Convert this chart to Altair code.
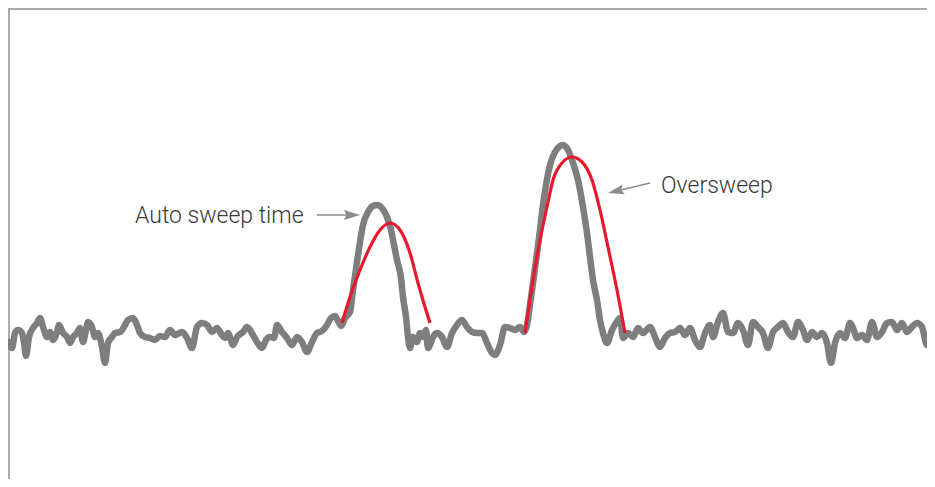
import altair as alt
import pandas as pd

# Noisy spectrum trace (frequency position, screen level)
trace_x = [8, 12, 15, 18, 22, 24, 26, 29, 33, 37, 40, 43, 47, 50, 53, 57, 59, 63, 67, 70,
           73, 77, 80, 83, 86, 88, 92, 95, 98, 102, 105, 108, 112, 115, 120, 124, 128, 133, 137, 140,
           145, 150, 155, 160, 165, 170, 175, 182, 187, 192, 197, 202, 207, 212, 217, 222, 225, 228, 233, 237,
           243, 247, 253, 257, 262, 266, 270, 274, 277, 282, 287, 292, 297, 302, 307, 312, 317, 322, 327, 331,
           335, 338, 341, 345, 350, 353, 357, 360, 363, 368, 373, 377, 382, 387, 391, 394, 397, 401, 403, 406,
           408, 410, 413, 417, 420, 423, 426, 428, 433, 437, 442, 447, 452, 457, 462, 467, 472, 477, 482, 487,
           492, 495, 500, 505, 510, 515, 520, 524, 527, 530, 533, 537, 540, 543, 546, 550, 555, 560, 563, 568,
           573, 578, 583, 587, 590, 593, 597, 600, 603, 607, 612, 616, 620, 623, 628, 633, 638, 643, 650, 655,
           660, 665, 670, 675, 680, 685, 690, 695, 700, 705, 710, 713, 718, 723, 728, 733, 738, 743, 748, 753,
           758, 763, 768, 773, 778, 783, 788, 793, 798, 803, 807, 812, 817, 822, 827, 831, 835, 840, 845, 850,
           853, 857, 862, 867, 872, 877, 882, 887, 892, 897, 902, 907, 912, 917, 922, 927, 932, 935]
trace_y = [342, 348, 333, 330, 333, 343, 356, 337, 328, 323, 318, 327, 337, 332, 340, 332, 325, 333, 337, 343,
           337, 333, 328, 342, 330, 322, 327, 337, 333, 347, 363, 343, 337, 333, 332, 327, 320, 318, 325, 333,
           337, 338, 340, 336, 337, 330, 335, 332, 338, 348, 327, 323, 325, 332, 328, 335, 338, 333, 345, 337,
           332, 327, 335, 342, 348, 340, 337, 338, 325, 332, 338, 345, 337, 342, 352, 342, 333, 331, 325, 318,
           316, 321, 326, 318, 312, 290, 262, 242, 225, 212, 206, 205, 208, 217, 230, 245, 260, 278, 297, 317,
           337, 348, 337, 342, 333, 337, 330, 348, 337, 333, 337, 347, 333, 325, 320, 327, 332, 333, 333, 343,
           353, 355, 345, 327, 328, 330, 327, 332, 325, 305, 283, 253, 230, 205, 185, 165, 152, 146, 145, 150,
           163, 180, 207, 233, 257, 280, 300, 320, 333, 343, 330, 323, 318, 338, 333, 337, 328, 333, 327, 337,
           347, 338, 333, 332, 328, 335, 328, 340, 347, 333, 325, 337, 322, 313, 332, 333, 323, 330, 345, 322,
           327, 333, 348, 332, 327, 323, 332, 337, 322, 330, 340, 332, 337, 333, 343, 363, 343, 333, 338, 323,
           328, 338, 335, 340, 322, 337, 332, 323, 322, 330, 323, 332, 327, 323, 327, 345, 328, 330]

# Red sweep curves
red1_x = [342, 350, 360, 370, 380, 390, 400, 410, 418, 425, 430]
red1_y = [323, 297, 270, 247, 230, 223, 230, 253, 283, 307, 323]
red2_x = [525, 533, 540, 547, 553, 562, 572, 582, 592, 600, 608, 617, 625]
red2_y = [333, 280, 240, 207, 180, 163, 157, 162, 180, 210, 247, 290, 333]

# Annotations
label_text = ["Auto sweep time", "Oversweep"]
label_x = [135, 661]
label_y = [223, 193]
arrow_x = [317, 650]
arrow_y = [215, 183]
arrow_x2 = [347, 621]
arrow_y2 = [215, 190]
head_x = [352, 615.8]
head_y = [215, 191.2]
head_angle = [0, 167]

trace = pd.DataFrame({"x": trace_x, "y": trace_y})
red = pd.concat([
    pd.DataFrame({"x": red1_x, "y": red1_y, "id": "a", "o": range(len(red1_x))}),
    pd.DataFrame({"x": red2_x, "y": red2_y, "id": "b", "o": range(len(red2_x))}),
])
labels = pd.DataFrame({"t": label_text, "x": label_x, "y": label_y})
arrows = pd.DataFrame({"x": arrow_x, "y": arrow_y, "x2": arrow_x2, "y2": arrow_y2})
heads = pd.DataFrame({"x": head_x, "y": head_y, "a": head_angle})
frame = pd.DataFrame({"x": [8, 9], "x2": [927, 9], "y": [9, 9], "y2": [9, 479]})

XS = alt.Scale(domain=[8, 927], nice=False, zero=False)
YS = alt.Scale(domain=[8, 479], nice=False, zero=False, reverse=True)

def X(f="x"):
    return alt.X(f"{f}:Q", scale=XS, axis=None)

def Y(f="y"):
    return alt.Y(f"{f}:Q", scale=YS, axis=None)

frame_l = alt.Chart(frame).mark_rule(color="#ababab", strokeWidth=2, clip=True).encode(
    x=X(), x2="x2:Q", y=Y(), y2="y2:Q")

trace_l = alt.Chart(trace).mark_line(
    color="#7e7e7e", strokeWidth=6.5, interpolate="monotone",
    strokeJoin="round", strokeCap="round", clip=True).encode(x=X(), y=Y())

red_l = alt.Chart(red).mark_line(
    color="#e8192f", strokeWidth=3.2, interpolate="monotone", strokeCap="butt").encode(
    x=X(), y=Y(), detail="id:N", order="o:Q")

arrow_l = alt.Chart(arrows).mark_rule(color="#8c8c8c", strokeWidth=1.5).encode(
    x=X(), y=Y(), x2="x2:Q", y2="y2:Q")

head_l = alt.Chart(heads).mark_point(
    shape="M1,0L-1,-0.62L-0.7,0L-1,0.62Z", filled=True, size=256,
    color="#8c8c8c", opacity=1, strokeWidth=0).encode(
    x=X(), y=Y(), angle=alt.Angle("a:Q", scale=None))

text_l = alt.Chart(labels).mark_text(
    align="left", baseline="alphabetic", font="Roboto", fontWeight=300,
    fontSize=23, color="#3a3a3a").encode(x=X(), y=Y(), text="t:N")

chart = alt.layer(frame_l, trace_l, red_l, arrow_l, head_l, text_l).properties(
    width=919, height=471, padding=0
).configure_view(stroke=None)

chart.save("out.html", embed_options={"renderer": "svg", "actions": False})
